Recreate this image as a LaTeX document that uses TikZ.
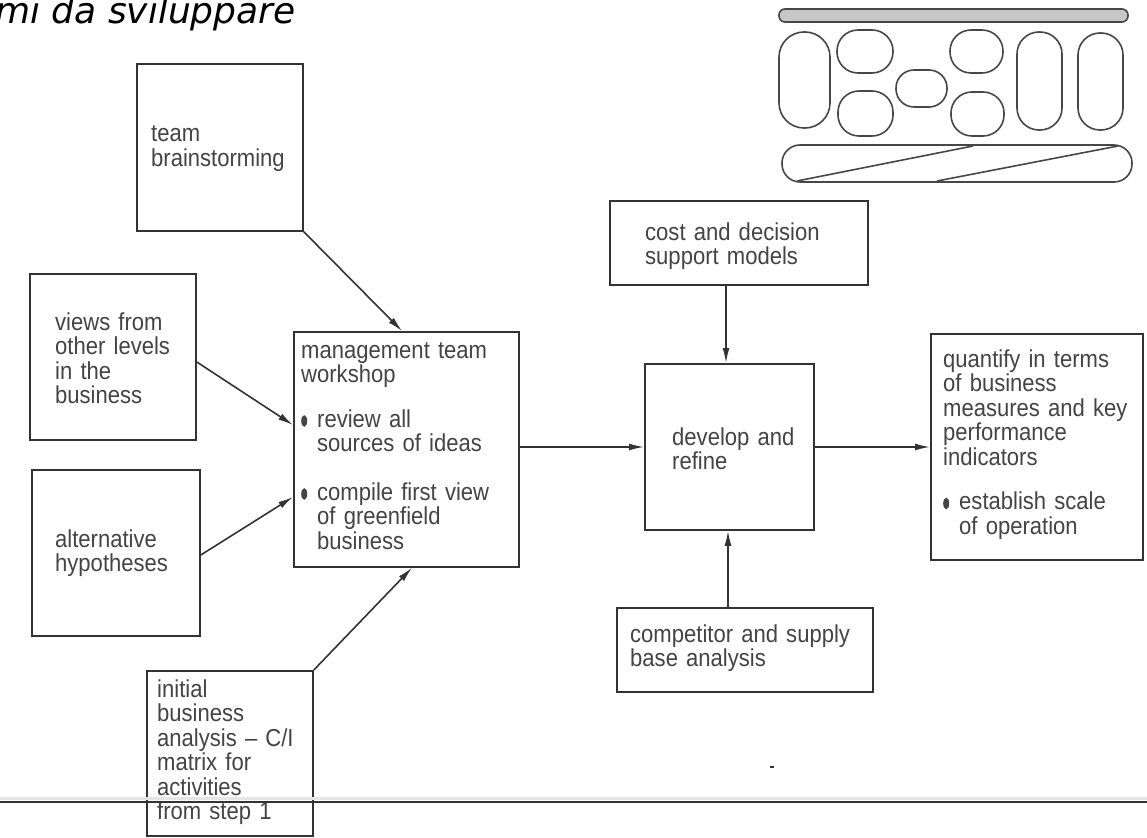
\documentclass[tikz,border=0pt]{standalone}
\usepackage{fontspec}
\setmainfont[FakeStretch=0.9]{Liberation Sans}
\newfontfamily\headfont{DejaVu Sans}
\usetikzlibrary{arrows.meta}
\definecolor{ink}{HTML}{333333}
\definecolor{txt}{HTML}{444444}
% oval list bullet with a hanging indent
\newcommand{\blt}{\makebox[16pt][l]{\tikz[baseline=0pt]\fill (3pt,6pt) ellipse (3pt and 5.8pt);}}
\newcommand{\hang}{\hspace*{16pt}}

\begin{document}
\begin{tikzpicture}[x=1pt,y=-1pt,
  box/.style={draw=ink,line width=1.8pt,inner sep=0pt,anchor=north west},
  lbl/.style={anchor=base west,inner sep=0pt,text=txt,align=left,text width=230pt,
              font=\fontsize{24.5}{24.5}\selectfont},
  flow/.style={draw=ink,line width=1.6pt,-{Latex[length=15pt,width=7pt]}},
  icon/.style={draw=ink!90,line width=1.6pt}]
\useasboundingbox (0,0) rectangle (1147,837);
\fill[white] (0,0) rectangle (1147,837);

% heading, cut at the page edge
\node[anchor=base west,inner sep=0pt,font=\headfont\itshape\fontsize{36}{40}\selectfont] (head) at (-5,24) {mi da sviluppare};

% emblem in the upper right corner
\draw[icon,fill=black!22,rounded corners=6pt] (779,9) rectangle (1128,22);
\draw[icon,rounded corners=25pt] (779,32) rectangle (830,128);
\draw[icon,rounded corners=21pt] (837,30) rectangle (893,73);
\draw[icon,rounded corners=21pt] (838,91) rectangle (893,136);
\draw[icon,rounded corners=18pt] (896,70) rectangle (947,107);
\draw[icon,rounded corners=21pt] (950,30) rectangle (1003,73);
\draw[icon,rounded corners=21pt] (951,92) rectangle (1004,136);
\draw[icon,rounded corners=22pt] (1017,32) rectangle (1062,130);
\draw[icon,rounded corners=22pt] (1078,33) rectangle (1123,130);
\draw[icon,rounded corners=18pt] (782,145) rectangle (1132,182);
\draw[icon] (797,181) -- (973,146);
\draw[icon] (937,181) -- (1118,146);

% boxes
\node[box,minimum width=166pt,minimum height=167pt] (brain) at (136,63) {};
\node[box,minimum width=166pt,minimum height=166pt] (views) at (29,273) {};
\node[box,minimum width=168pt,minimum height=166pt] (alt) at (31,469) {};
\node[box,minimum width=225pt,minimum height=235pt] (mgmt) at (293,331) {};
\node[box,minimum width=166pt,minimum height=165pt] (init) at (146,670) {};
\node[box,minimum width=258pt,minimum height=84pt] (cost) at (609,200) {};
\node[box,minimum width=169pt,minimum height=166pt] (dev) at (644,363) {};
\node[box,minimum width=256pt,minimum height=84pt] (comp) at (616,607) {};
\node[box,minimum width=212pt,minimum height=226pt] (quant) at (930,333) {};

% box texts
\node[lbl] (tbrain) at (151,142) {team\\brainstorming};
\node[lbl] (tviews) at (55,330) {views from\\other levels\\in the\\business};
\node[lbl] (talt) at (55,547) {alternative\\hypotheses};
\node[lbl] (tmgmt) at (301,358) {management team\\workshop\\[20pt]
  \blt review all\\\hang sources of ideas\\[24pt]
  \blt compile first view\\\hang of greenfield\\\hang business};
\node[lbl] (tinit) at (157,697) {initial\\business\\analysis -- C/I\\matrix for\\activities\\from step 1};
\node[lbl] (tcost) at (645,240) {cost and decision\\support models};
\node[lbl] (tdev) at (672,445) {develop and\\refine};
\node[lbl] (tcomp) at (630,642) {competitor and supply\\base analysis};
\node[lbl] (tquant) at (943,367) {quantify in terms\\of business\\measures and key\\performance\\indicators\\[20pt]
  \blt establish scale\\\hang of operation};

% connectors
\draw[flow] (brain.south east) -- (mgmt.north -| 402,0);
\draw[flow] (views.east |- 0,362) -- (mgmt.west |- 0,425);
\draw[flow] (alt.east |- 0,555) -- (mgmt.west |- 0,497);
\draw[flow] (init.north east) -- (mgmt.south -| 412,0);
\draw[flow] (mgmt.east |- 0,447) -- (dev.west |- 0,447);
\draw[flow] (cost.south -| 726,0) -- (dev.north -| 726,0);
\draw[flow] (comp.north -| 728,0) -- (dev.south -| 728,0);
\draw[flow] (dev.east |- 0,447) -- (quant.west |- 0,447);

% page rule at the foot
\coordinate (ruleL) at (0,802);
\coordinate (ruleR) at (1147,802);
\draw[black!10,line width=3pt] ([yshift=4pt]ruleL) -- ([yshift=4pt]ruleR);
\draw[ink,line width=1.8pt] (ruleL) -- (ruleR);
\coordinate (speck) at (772,767);
\draw[ink,line width=1.2pt] ([xshift=-2pt]speck) -- ([xshift=2pt]speck);
\end{tikzpicture}
\end{document}
